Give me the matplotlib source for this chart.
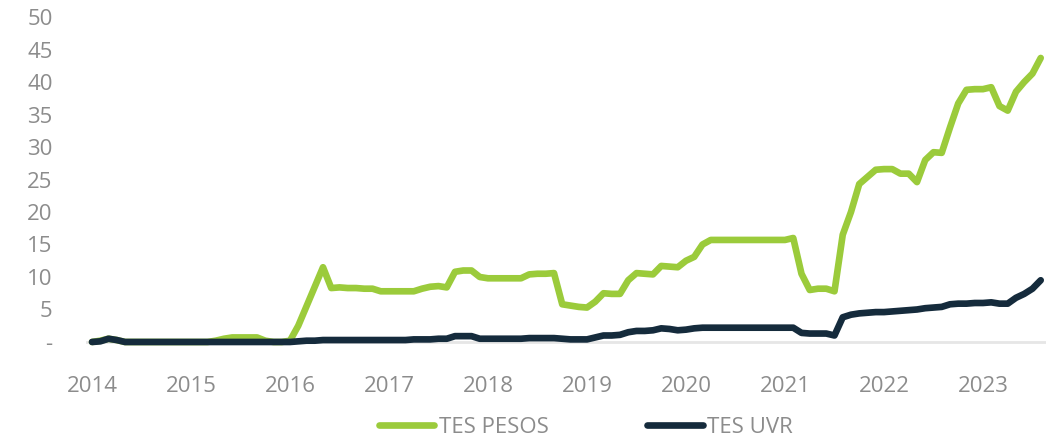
import matplotlib
matplotlib.use("Agg")
import matplotlib.pyplot as plt
import numpy as np

# Monthly data, Jan 2014 .. Aug 2023
years = [str(y) for y in range(2014, 2024)]

tes_pesos = [
    0.0, 0.2, 0.5, 0.3, 0.0, 0.0, 0.0, 0.0, 0.0, 0.0, 0.0, 0.0,          # 2014
    0.0, 0.0, 0.0, 0.2, 0.5, 0.7, 0.7, 0.7, 0.7, 0.2, 0.0, 0.0,          # 2015
    0.2, 2.5, 5.5, 8.5, 11.5, 8.3, 8.4, 8.3, 8.3, 8.2, 8.2, 7.8,         # 2016
    7.8, 7.8, 7.8, 7.8, 8.2, 8.5, 8.6, 8.4, 10.8, 11.0, 11.0, 10.0,      # 2017
    9.8, 9.8, 9.8, 9.8, 9.8, 10.4, 10.5, 10.5, 10.6, 5.8, 5.6, 5.4,      # 2018
    5.3, 6.2, 7.5, 7.4, 7.4, 9.5, 10.6, 10.5, 10.4, 11.7, 11.6, 11.5,    # 2019
    12.5, 13.1, 15.0, 15.7, 15.7, 15.7, 15.7, 15.7, 15.7, 15.7, 15.7, 15.7,  # 2020
    15.7, 16.0, 10.5, 8.0, 8.2, 8.2, 7.8, 16.5, 20.0, 24.3, 25.4, 26.5,  # 2021
    26.6, 26.6, 25.9, 25.9, 24.6, 28.0, 29.2, 29.1, 33.0, 36.7, 38.8, 38.9,  # 2022
    38.9, 39.2, 36.3, 35.6, 38.5, 40.0, 41.3, 43.7,                      # 2023
]

tes_uvr = [
    0.0, 0.1, 0.5, 0.3, 0.0, 0.0, 0.0, 0.0, 0.0, 0.0, 0.0, 0.0,          # 2014
    0.0, 0.0, 0.0, 0.0, 0.0, 0.0, 0.0, 0.0, 0.0, 0.0, 0.0, 0.0,          # 2015
    0.0, 0.1, 0.2, 0.2, 0.3, 0.3, 0.3, 0.3, 0.3, 0.3, 0.3, 0.3,          # 2016
    0.3, 0.3, 0.3, 0.4, 0.4, 0.4, 0.5, 0.5, 0.9, 0.9, 0.9, 0.5,          # 2017
    0.5, 0.5, 0.5, 0.5, 0.5, 0.6, 0.6, 0.6, 0.6, 0.5, 0.4, 0.4,          # 2018
    0.4, 0.7, 1.0, 1.0, 1.1, 1.5, 1.7, 1.7, 1.8, 2.1, 2.0, 1.8,          # 2019
    1.9, 2.1, 2.2, 2.2, 2.2, 2.2, 2.2, 2.2, 2.2, 2.2, 2.2, 2.2,          # 2020
    2.2, 2.2, 1.4, 1.3, 1.3, 1.3, 1.0, 3.8, 4.2, 4.4, 4.5, 4.6,          # 2021
    4.6, 4.7, 4.8, 4.9, 5.0, 5.2, 5.3, 5.4, 5.8, 5.9, 5.9, 6.0,          # 2022
    6.0, 6.1, 5.9, 5.9, 6.8, 7.4, 8.2, 9.5,                              # 2023
]

GREEN = "#9BCB3B"
NAVY = "#152B3C"
GRAY = "#8C8C8C"

plt.rcParams['font.family'] = ['Open Sans', 'DejaVu Sans']

fig = plt.figure(figsize=(10.56, 4.40), dpi=100)
ax = fig.add_axes([86/1056, 88/440, 960/1056, 342/440])

x = np.arange(len(tes_pesos))
ax.axhline(0, color="#E6E6E6", lw=2, zorder=1)
ax.plot(x, tes_pesos, color=GREEN, lw=4.8, solid_capstyle='round',
        solid_joinstyle='round', label="TES PESOS", zorder=3)
ax.plot(np.arange(len(tes_uvr)), tes_uvr, color=NAVY, lw=4.8, solid_capstyle='round',
        solid_joinstyle='round', label="TES UVR", zorder=4)

ax.set_xlim(-0.73, 115.64)
ax.set_ylim(-1.54, 51.08)

ax.set_xticks(np.arange(len(years)) * 12)
ax.set_xticklabels(years)
yt = np.arange(0, 55, 5)
ax.set_yticks(yt)
ax.set_yticklabels(["-"] + [str(v) for v in yt[1:]])

ax.tick_params(axis='x', length=0, pad=17, labelsize=16, labelcolor=GRAY)
ax.tick_params(axis='y', length=0, pad=24, labelsize=16, labelcolor=GRAY)
for s in ax.spines.values():
    s.set_visible(False)

leg = fig.legend(loc='center', bbox_to_anchor=(586/1056, 1 - 427/440), ncol=2,
                 frameon=False, fontsize=16, handlelength=2.5, handletextpad=0.22,
                 columnspacing=4.4, labelcolor=GRAY)

fig.savefig("out.png", dpi=100)
